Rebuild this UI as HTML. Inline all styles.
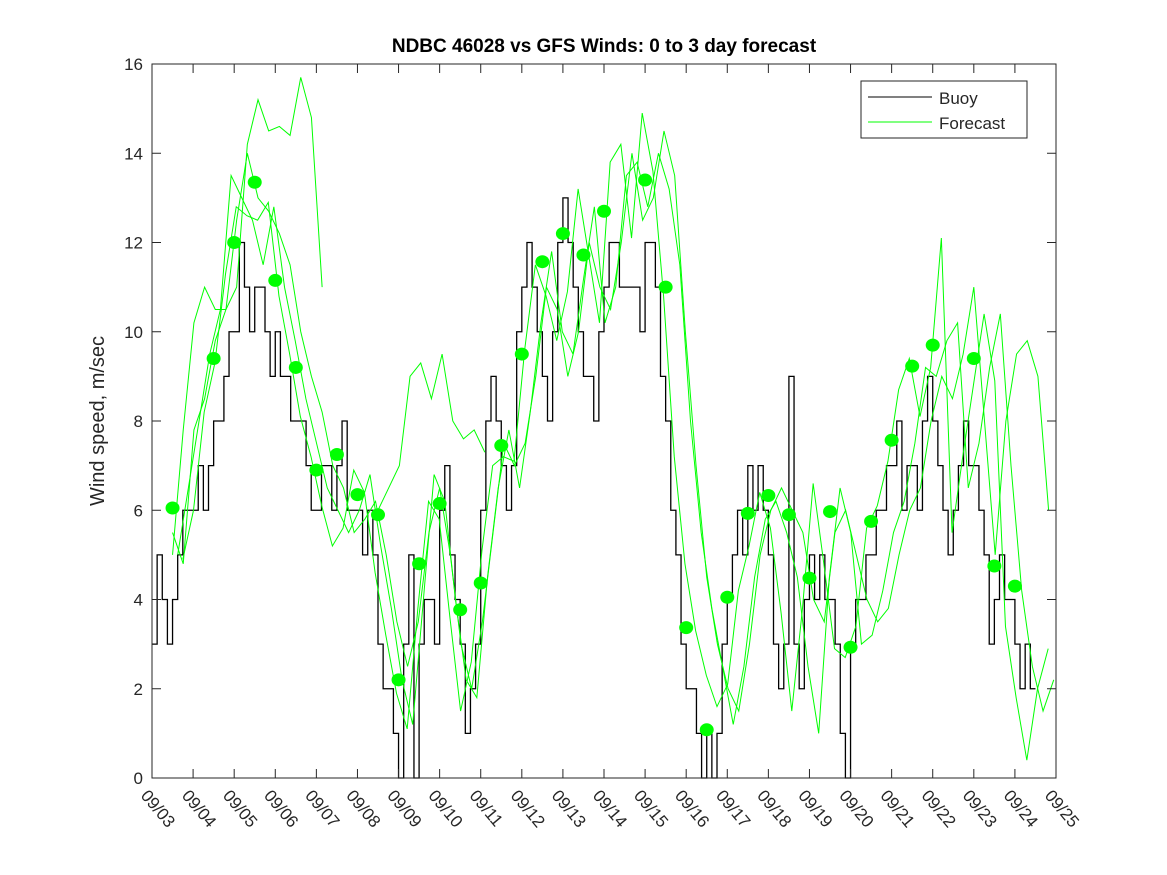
<!DOCTYPE html>
<html><head><meta charset="utf-8"><style>
body{margin:0;background:#fff;}
svg{display:block;font-family:"Liberation Sans","DejaVu Sans",sans-serif;}
</style></head><body>
<svg id="chart" width="1167" height="875">
<rect width="1167" height="875" fill="#fff"/>
<text x="604" y="52" text-anchor="middle" font-size="19" font-weight="bold">NDBC 46028 vs GFS Winds: 0 to 3 day forecast</text>
<text transform="translate(104,421) rotate(-90)" text-anchor="middle" font-size="20" fill="#262626">Wind speed, m/sec</text>
<g id="plot"></g>
<g id="axes"></g>
<g>
<rect x="861" y="81" width="166" height="57" fill="#fff" stroke="#262626" stroke-width="1"/>
<line x1="868" y1="97" x2="932" y2="97" stroke="#000" stroke-width="1"/>
<text x="939" y="104" font-size="17" fill="#262626">Buoy</text>
<line x1="868" y1="122" x2="932" y2="122" stroke="#00ff00" stroke-width="1"/>
<text x="939" y="129" font-size="17" fill="#262626">Forecast</text>
</g>
</svg>
<script>
const xTickLabels=["09/03","09/04","09/05","09/06","09/07","09/08","09/09","09/10","09/11","09/12","09/13","09/14","09/15","09/16","09/17","09/18","09/19","09/20","09/21","09/22","09/23","09/24","09/25"];
const yTicks=[0,2,4,6,8,10,12,14,16];
const buoyStep=0.125;
const buoyValues=[3,5,4,3,4,5,6,6, 6,7,6,7,8,8,9,10, 10,12,11,10,11,11,10,9, 10,9,9,8,8,8,7,6, 6,7,7,6,7,8,6,6, 6,5,6,5,3,2,2,1, 0,3,5,0,3,4,4,3, 6,7,5,4,3,1,2,3, 6,8,9,8,7,6,7,10, 11,12,11,10,9,8,10,12, 13,12,11,10,9,9,8,10, 11,12,12,11,11,11,11,10, 12,12,11,9,8,6,5,3, 2,2,1,0,1,0,1,3, 4,5,6,5,7,6,7,6, 5,3,2,3,9,3,2,4, 5,4,5,4,4,3,1,0, 3,4,4,5,5,6,6,7, 7,8,6,7,7,6,8,9, 8,7,6,5,6,7,8,7, 7,6,5,3,4,5,4,4, 3,2,3,2];
const fcStep=0.26;
const fcAStart=0.5;
const fcA=[5.5,4.8,7.8,8.5,9.8,10.5,12.5,14,13,12.7,12.2,11.5,10,9,8.2,7,6.5,5.5,5.8,6.2,5,3.5,2.5,3.5,5.5,6.5,5,3,2,3.5,5.5,7.5,7,7.5,9,11,10.5,9,10,12,11,10.5,12,14,12.5,13,14.5,13.5,10,7,4.5,3,2,1.5,3,5,6,6.5,6,5.5,4,3.5,5.5,6,5,4,3.5,3.8,5,6,6.5,8,9,8.5,9.5,11,8,5,8,9.5,9.8,9,6,4,3,2.5,4.5];
const fcBStart=0.625;
const fcB=[5,6.5,8,9.5,10.5,13.5,13,12.5,11.5,12.8,11,9.8,8.5,7.5,6.5,6,5.5,6,6.8,5.2,3.8,2.2,1.2,4,6.8,6.2,4,2.2,1.8,4.5,6.5,7.8,6.5,8.2,10.2,11.8,10,9.5,11.2,12.8,10.2,11,13.5,13.8,12.8,14,13.2,11.5,8,5.5,3.8,2.5,1.2,2.5,4.5,5.8,6.2,5.5,4.5,2.5,1,4.5,6.5,5.5,3,3.2,4.2,5.5,6.2,7.5,9.2,9,9.8,10.2,6.5,7.5,9.2,10.4,7,4.2,2.5,1.5,2.2,3.2,4.8];
const fcCStart=0.75;
const fcC=[4.9,6,8.2,9.3,11.3,12.8,12.6,12.5,12.9,10.8,9.5,8.1,7.2,6.1,5.2,5.6,6.9,6.4,4.6,3.2,1.9,1.1,3.8,6.2,5.8,3.6,1.5,2.6,5.1,7,7.2,7.1,9.6,11.5,10.8,9.8,10.9,13.2,11.7,10.2,13.8,14.2,12.1,14.9,13.6,10.8,7.2,4.8,3.3,2.3,1.6,2.1,4.2,5.2,6.4,5.6,3.7,1.5,3.8,6.6,4.8,2.9,2.7,3.4,5.6,6.1,7.1,8.7,9.4,8.1,9.2,12.1,5.5,7.2,8.8,10.4,8.9,3.4,1.8,0.4,2,2.9,3.8,5.2];
const fcDStart=0.5;
const fcD=[5,7.8,10.2,11,10.5,10.5,11,14.2,15.2,14.5,14.6,14.4,15.7,14.8,11];
const fcEStart=5.5;
const fcE=[6,6.5,7,9,9.3,8.5,9.5,8,7.6,7.8,7.3];
const dotDays=[0.5,1.5,2,2.5,3,3.5,4,4.5,5,5.5,6,6.5,7,7.5,8,8.5,9,9.5,10,10.5,11,12,12.5,13,13.5,14,14.5,15,15.5,16,16.5,17,17.5,18,18.5,19,20,20.5,21];
const dotValues=[6.05,9.4,12,13.35,11.15,9.2,6.9,7.25,6.35,5.9,2.2,4.8,6.15,3.77,4.37,7.45,9.5,11.57,12.2,11.72,12.7,13.4,11,3.37,1.08,4.05,5.93,6.33,5.9,4.48,5.97,2.93,5.75,7.57,9.23,9.7,9.4,4.75,4.3];

const X0=152,X1=1056,Y0=778,Y1=64,DAYS=22,YMAX=16;
const xs=d=>X0+(X1-X0)*d/DAYS;
const ys=v=>Y0-(Y0-Y1)*v/YMAX;
const NS="http://www.w3.org/2000/svg";
const plot=document.getElementById('plot');
const axes=document.getElementById('axes');
function mk(tag,attrs,parent){const e=document.createElementNS(NS,tag);for(const k in attrs)e.setAttribute(k,attrs[k]);parent.appendChild(e);return e;}

let d="";
buoyValues.forEach((v,i)=>{const x=xs(i*buoyStep);const y=ys(v);if(i===0)d+="M"+x+","+y;else d+="L"+x+","+y;d+="L"+xs(Math.min((i+1)*buoyStep,DAYS))+","+y;});
const bl=mk('path',{d:d,fill:'none',stroke:'#000','stroke-width':1.3},plot);



function fcLine(start,vals,name){
  const pts=[];vals.forEach((v,i)=>{const t=start+i*fcStep;if(t<=DAYS)pts.push(xs(t)+","+ys(v));});
  const p=mk('polyline',{points:pts.join(" "),fill:'none',stroke:'#00ff00','stroke-width':1},plot);
  
  
}
fcLine(fcAStart,fcA,'forecast-line-a');
fcLine(fcBStart,fcB,'forecast-line-b');
fcLine(fcCStart,fcC,'forecast-line-c');
fcLine(fcDStart,fcD,'forecast-line-d');
fcLine(fcEStart,fcE,'forecast-line-e');

dotDays.forEach((t,i)=>{
  const c=mk('ellipse',{cx:xs(t),cy:ys(dotValues[i]),rx:7,ry:6.5,fill:'#00ff00'},plot);
  
  
});

const fr=mk('rect',{x:X0,y:Y1,width:X1-X0,height:Y0-Y1,fill:'none',stroke:'#262626','stroke-width':1},axes);


yTicks.forEach(v=>{
  const y=ys(v);
  mk('line',{x1:X0,y1:y,x2:X0+9,y2:y,stroke:'#262626'},axes);
  mk('line',{x1:X1,y1:y,x2:X1-9,y2:y,stroke:'#262626'},axes);
  const t=mk('text',{x:X0-9,y:y+6,'text-anchor':'end','font-size':17,fill:'#262626'},axes);
  t.textContent=v;
  
  
});
xTickLabels.forEach((lab,i)=>{
  const x=xs(i);
  mk('line',{x1:x,y1:Y0,x2:x,y2:Y0-9,stroke:'#262626'},axes);
  mk('line',{x1:x,y1:Y1,x2:x,y2:Y1+9,stroke:'#262626'},axes);
  const t=mk('text',{transform:`translate(${x-12},${Y0+18}) rotate(50)`,'font-size':17,fill:'#262626'},axes);
  t.textContent=lab;
  
  
});
</script>
</body></html>
